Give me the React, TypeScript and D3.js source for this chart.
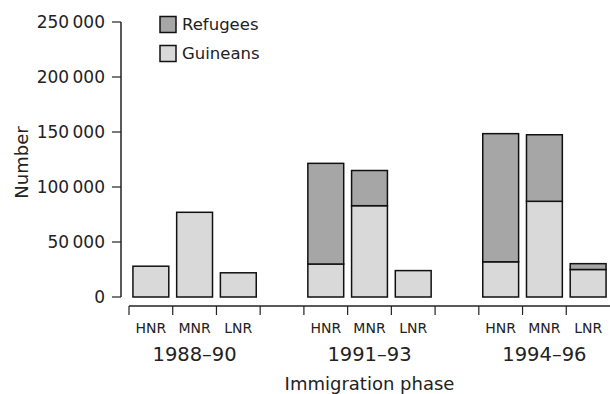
import React, { useEffect, useRef } from "react";
import * as d3 from "d3";

const phases = ["1988–90", "1991–93", "1994–96"];
const regions = ["HNR", "MNR", "LNR"];
// one value per phase × region, in order
const guineans = [28000, 77000, 22000, 30000, 83000, 24000, 32000, 87000, 25000];
const refugees = [0, 0, 0, 91500, 32000, 0, 116500, 60500, 5300];
const seriesNames = ["Guineans", "Refugees"];
const seriesColors = ["#d9d9d9", "#a6a6a6"];
const yTicks = [0, 50000, 100000, 150000, 200000, 250000];

const FONT = "DejaVu Sans, sans-serif";
const INK = "#222";

const App = () => {
  const svgRef = useRef<SVGSVGElement | null>(null);

  useEffect(() => {
    if (!svgRef.current) return;
    const svg = d3.select(svgRef.current);
    svg.selectAll("*").remove();

    const width = 610;
    const height = 394;

    // slots: three bars per phase, then an empty gap slot between phases
    const rows: { key: string; phase: number; region: string; Guineans: number; Refugees: number }[] = [];
    const slots: string[] = [];
    phases.forEach((p, pi) => {
      regions.forEach((r, ri) => {
        const key = `${p}-${r}`;
        slots.push(key);
        rows.push({
          key,
          phase: pi,
          region: r,
          Guineans: guineans[pi * 3 + ri],
          Refugees: refugees[pi * 3 + ri],
        });
      });
      if (pi < phases.length - 1) slots.push(`gap-${pi}`);
    });

    const x = d3
      .scaleBand()
      .domain(slots)
      .range([129, 610])
      .paddingInner(0.18)
      .paddingOuter(0.09);
    const step = x.step();
    const slotStart = (k: string) => (x(k) as number) - (step * 0.18) / 2;

    const y = d3.scaleLinear().domain([0, 250000]).range([297, 22]);

    const stack = d3.stack<any>().keys(seriesNames);
    const stacked = stack(rows);

    // bars
    stacked.forEach((layer, li) => {
      svg
        .append("g")
        .selectAll("rect")
        .data(layer.filter((d) => d[1] - d[0] > 0))
        .join("rect")
        .attr("x", (d) => x(d.data.key) as number)
        .attr("width", x.bandwidth())
        .attr("y", (d) => y(d[1]))
        .attr("height", (d) => y(d[0]) - y(d[1]))
        .attr("fill", seriesColors[li])
        .attr("stroke", "#111")
        .attr("stroke-width", 1.5);
    });

    // y axis
    const ya = svg.append("g");
    ya.append("line")
      .attr("x1", 121)
      .attr("x2", 121)
      .attr("y1", y(250000))
      .attr("y2", y(0))
      .attr("stroke", INK)
      .attr("stroke-width", 1.5);
    const fmt = d3.format(",");
    yTicks.forEach((t) => {
      ya.append("line")
        .attr("x1", 112)
        .attr("x2", 121)
        .attr("y1", y(t))
        .attr("y2", y(t))
        .attr("stroke", INK)
        .attr("stroke-width", 1.2);
      ya.append("text")
        .attr("x", 105)
        .attr("y", y(t))
        .attr("text-anchor", "end")
        .attr("dominant-baseline", "central")
        .attr("font-family", FONT)
        .attr("font-size", 17)
        .attr("fill", INK)
        .text(fmt(t).replace(/,/g, "\u2009"));
    });
    svg
      .append("text")
      .attr("transform", `translate(21, ${(y(0) + y(250000)) / 2 + 3}) rotate(-90)`)
      .attr("text-anchor", "middle")
      .attr("dominant-baseline", "central")
      .attr("font-family", FONT)
      .attr("font-size", 18)
      .attr("fill", INK)
      .text("Number");

    // x axis
    const xa = svg.append("g");
    xa.append("line")
      .attr("x1", 129)
      .attr("x2", 610)
      .attr("y1", 306)
      .attr("y2", 306)
      .attr("stroke", INK)
      .attr("stroke-width", 1.5);
    slots.forEach((s) => {
      xa.append("line")
        .attr("x1", slotStart(s))
        .attr("x2", slotStart(s))
        .attr("y1", 306)
        .attr("y2", 315)
        .attr("stroke", INK)
        .attr("stroke-width", 1.2);
    });
    rows.forEach((r) => {
      xa.append("text")
        .attr("x", (x(r.key) as number) + x.bandwidth() / 2)
        .attr("y", 328)
        .attr("text-anchor", "middle")
        .attr("dominant-baseline", "central")
        .attr("font-family", FONT)
        .attr("font-size", 14)
        .attr("fill", INK)
        .text(r.region);
    });
    phases.forEach((p) => {
      const first = slotStart(`${p}-HNR`);
      const last = slotStart(`${p}-LNR`) + step;
      xa.append("text")
        .attr("x", (first + last) / 2)
        .attr("y", 354)
        .attr("text-anchor", "middle")
        .attr("dominant-baseline", "central")
        .attr("font-family", FONT)
        .attr("font-size", 19.5)
        .attr("fill", INK)
        .text(p);
    });
    svg
      .append("text")
      .attr("x", (129 + 610) / 2)
      .attr("y", 383)
      .attr("text-anchor", "middle")
      .attr("dominant-baseline", "central")
      .attr("font-family", FONT)
      .attr("font-size", 18)
      .attr("fill", INK)
      .text("Immigration phase");

    // legend
    const legendItems = [
      { name: "Refugees", color: seriesColors[1] },
      { name: "Guineans", color: seriesColors[0] },
    ];
    legendItems.forEach((d, i) => {
      const cy = 24.5 + i * 29;
      svg
        .append("rect")
        .attr("x", 160)
        .attr("y", cy - 8)
        .attr("width", 16)
        .attr("height", 16)
        .attr("fill", d.color)
        .attr("stroke", "#111")
        .attr("stroke-width", 1.5);
      svg
        .append("text")
        .attr("x", 182)
        .attr("y", cy)
        .attr("dominant-baseline", "central")
        .attr("font-family", FONT)
        .attr("font-size", 16.5)
        .attr("fill", INK)
        .text(d.name);
    });
  }, []);

  return (
    <svg
      ref={svgRef}
      width={610}
      height={394}
      style={{ position: "absolute", left: 0, top: 0, background: "#fff" }}
    />
  );
};

export default App;
